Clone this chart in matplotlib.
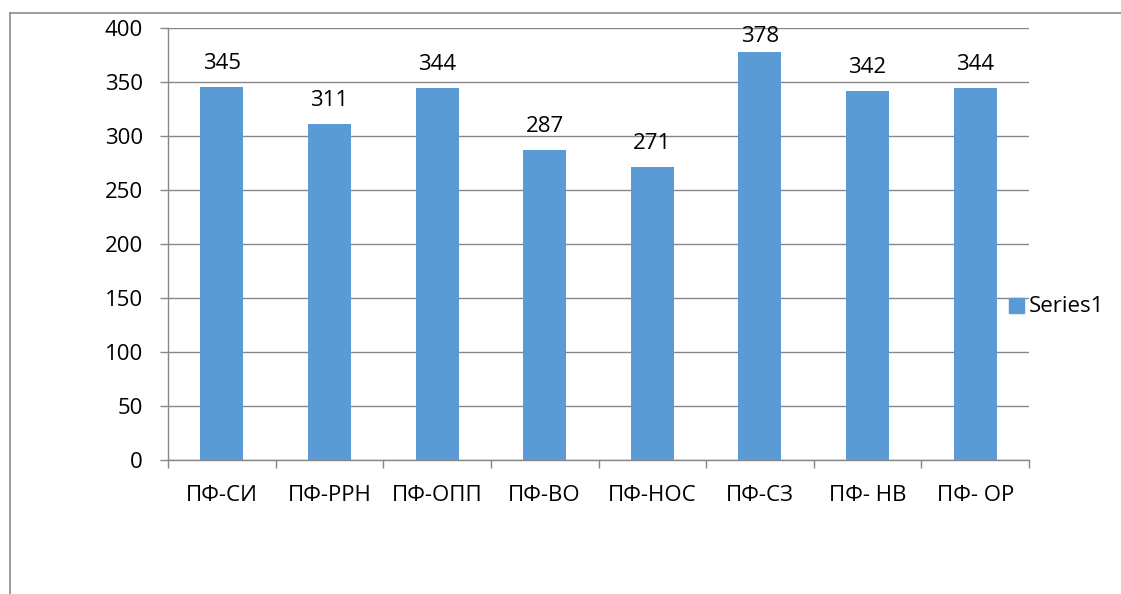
import matplotlib
matplotlib.use("Agg")
import matplotlib.pyplot as plt
from matplotlib.lines import Line2D
from matplotlib.patches import Rectangle
import numpy as np

categories = ["ПФ-СИ", "ПФ-РРН", "ПФ-ОПП", "ПФ-ВО", "ПФ-НОС", "ПФ-СЗ", "ПФ- НВ", "ПФ- ОР"]
values = [345, 311, 344, 287, 271, 378, 342, 344]
series_name = "Series1"
y_ticks = [0, 50, 100, 150, 200, 250, 300, 350, 400]

BAR = "#5B9BD5"
GRID = "#878787"
FONT = "Open Sans"
FS = 16

plt.rcParams["font.family"] = [FONT, "DejaVu Sans"]

W, H = 1121, 594
DPI = 100
fig = plt.figure(figsize=(W / DPI, H / DPI), dpi=DPI)
ax = fig.add_axes([168 / W, 1 - 460 / H, (1029 - 168) / W, (460 - 28) / H])

x = np.arange(len(categories))
ax.bar(x, values, width=0.4, color=BAR, zorder=3)

ax.set_xlim(-0.5, len(categories) - 0.5)
ax.set_ylim(0, 400)
ax.set_yticks(y_ticks)
ax.set_yticklabels([str(v) for v in y_ticks])
ax.yaxis.grid(True, color=GRID, linewidth=1.0, zorder=0)

ax.set_xticks(x)
ax.set_xticklabels(categories)
ax.set_xticks(np.arange(len(categories) + 1) - 0.5, minor=True)
ax.tick_params(axis="x", which="major", length=0, pad=18, labelsize=FS)
ax.tick_params(axis="x", which="minor", length=6, width=1, color=GRID, direction="out")
ax.tick_params(axis="y", length=6, width=1, color=GRID, pad=12, labelsize=FS)

for side in ("top", "right"):
    ax.spines[side].set_visible(False)
for side in ("left", "bottom"):
    ax.spines[side].set_color(GRID)
    ax.spines[side].set_linewidth(1.0)

# value labels above bars, kept inside the plot area near the top
px_per_unit = ax.get_position().height * H / (ax.get_ylim()[1] - ax.get_ylim()[0])
label_h_px = 17
for xi, v in zip(x, values):
    room_px = (ax.get_ylim()[1] - v) * px_per_unit + 3 - label_h_px
    off_px = min(18, room_px)
    ax.annotate(str(v), (xi, v), xytext=(0, off_px * 72 / DPI), textcoords="offset points",
                ha="center", va="baseline", fontsize=FS)

# legend entry on the right
fig.patches.append(Rectangle((1009 / W, 1 - 313 / H), 15 / W, 15 / H,
                             transform=fig.transFigure, color=BAR, figure=fig))
fig.text(1029 / W, 1 - 306 / H, series_name, ha="left", va="center", fontsize=FS)

# chart area frame
frame = "#8C8C8C"
fig.add_artist(Line2D([9.5 / W, 1.0], [1 - 12.5 / H, 1 - 12.5 / H], color=frame,
                      linewidth=1.2, transform=fig.transFigure))
fig.add_artist(Line2D([9.5 / W, 9.5 / W], [0, 1 - 12.5 / H], color=frame,
                      linewidth=1.2, transform=fig.transFigure))

fig.savefig("out.png", dpi=DPI)
